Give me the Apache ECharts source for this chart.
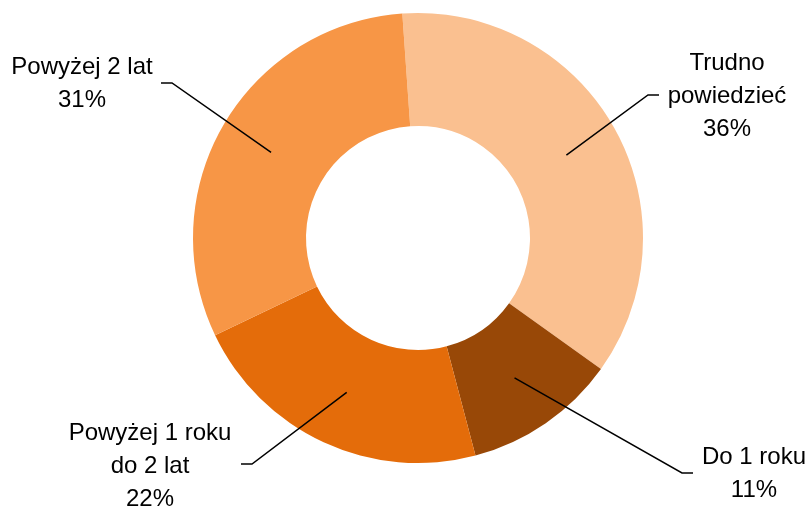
<!DOCTYPE html>
<html>
<head>
<meta charset="utf-8">
<script src="https://cdn.jsdelivr.net/npm/echarts@6/dist/echarts.min.js"></script>
<style>
html, body { margin: 0; background: #fff; }
#main { width: 811px; height: 509px; }
</style>
</head>
<body>
<div id="main"></div>
<script>
// dane wykresu
var categories = ['Trudno\npowiedzieć', 'Do 1 roku', 'Powyżej 1 roku\ndo 2 lat', 'Powyżej 2 lat'];
var shares = [36, 11, 22, 31];
var colors = ['#FAC090', '#984807', '#E46C0A', '#F79646'];

// zalamanie linii odniesienia i srodek tekstu etykiety
var labelSpots = [
    { bend: [648, 95], text: [727, 96], side: 1 },
    { bend: [682, 473], text: [754, 474], side: 1 },
    { bend: [252, 464], text: [150, 466], side: -1 },
    { bend: [172, 83], text: [82, 84], side: -1 }
];

var center = [418, 238];

var chart = echarts.init(document.getElementById('main'));

var pieData = categories.map(function (name, i) {
    return { name: name, value: shares[i], itemStyle: { color: colors[i] } };
});
var ghostData = categories.map(function (name, i) {
    return { name: name, value: shares[i] };
});

var option = {
    animation: false,
    series: [
        {
            type: 'pie',
            z: 2,
            center: center,
            radius: [112, 225],
            startAngle: 94,
            silent: true,
            label: { show: false },
            labelLine: { show: false },
            data: pieData
        },
        {
            // przezroczysty pierscien nad wykresem - linie startuja w polowie pierscienia
            type: 'pie',
            z: 5,
            center: center,
            radius: [0, 170],
            startAngle: 94,
            silent: true,
            avoidLabelOverlap: false,
            itemStyle: { color: 'rgba(0,0,0,0)' },
            label: {
                show: true,
                position: 'outside',
                formatter: '{b}\n{c}%',
                color: '#000',
                fontFamily: "'Liberation Sans', Arial, sans-serif",
                fontSize: 24,
                lineHeight: 33,
                align: 'center'
            },
            labelLine: {
                show: true,
                length: 10,
                length2: 10,
                lineStyle: { color: '#000', width: 1.5 }
            },
            labelLayout: function (p) {
                var s = labelSpots[p.dataIndex];
                var start = (p.labelLinePoints && p.labelLinePoints[0]) || s.bend;
                return {
                    x: s.text[0],
                    y: s.text[1],
                    align: 'center',
                    verticalAlign: 'middle',
                    labelLinePoints: [start, s.bend, [s.bend[0] + 11 * s.side, s.bend[1]]]
                };
            },
            data: ghostData
        }
    ]
};

chart.setOption(option);
</script>
</body>
</html>
